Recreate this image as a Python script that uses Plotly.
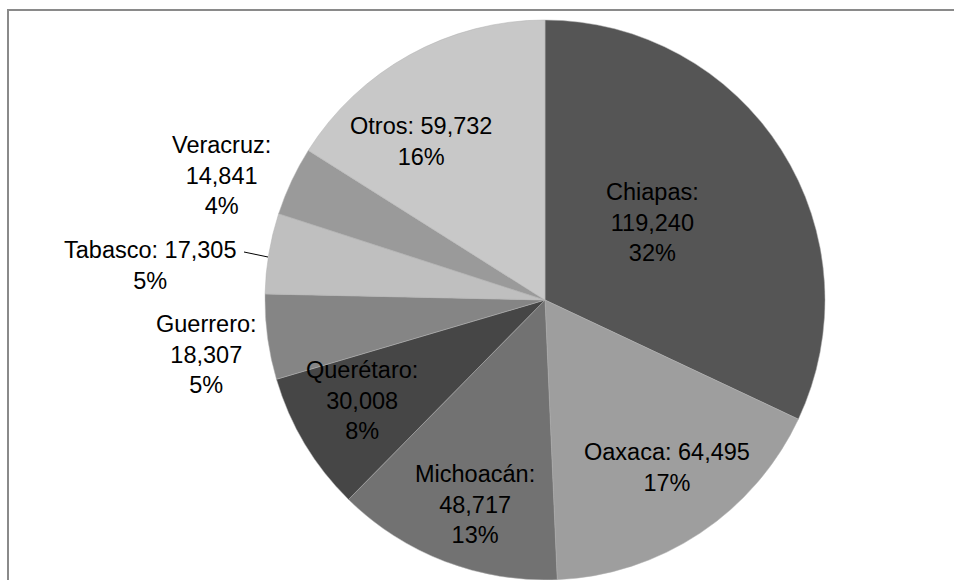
import plotly.graph_objects as go

labels = ["Chiapas", "Oaxaca", "Michoacán", "Querétaro", "Guerrero", "Tabasco", "Veracruz", "Otros"]
values = [119240, 64495, 48717, 30008, 18307, 17305, 14841, 59732]
colors = ["#555555", "#9e9e9e", "#727272", "#464646", "#858585", "#bfbfbf", "#9a9a9a", "#c8c8c8"]

W, H = 954, 580
total = sum(values)
pcts = [round(v * 100 / total) for v in values]


def px(x):
    return x / W


def py(y):
    return 1 - y / H


# label layout: (center x px, center y px, split style)
label_pos = {
    "Chiapas": (652, 222, 3),
    "Oaxaca": (667, 467, 2),
    "Michoacán": (475, 504, 3),
    "Querétaro": (362, 400, 3),
    "Guerrero": (206, 355, 3),
    "Tabasco": (150, 265, 2),
    "Veracruz": (221, 175, 3),
    "Otros": (421, 142, 2),
}

fig = go.Figure()
fig.add_trace(go.Pie(
    labels=labels, values=values, sort=False, direction="clockwise", rotation=0,
    marker=dict(colors=colors, line=dict(color="#b0b0b0", width=0.5)),
    textinfo="none", hoverinfo="label+value+percent", showlegend=False,
    domain=dict(x=[px(265), px(825)], y=[py(580), py(20)]),
))

for lab, val, p in zip(labels, values, pcts):
    x, y, style = label_pos[lab]
    if style == 3:
        txt = f"{lab}:<br>{val:,}<br>{p}%"
    else:
        txt = f"{lab}: {val:,}<br>{p}%"
    fig.add_annotation(x=px(x), y=py(y), xref="paper", yref="paper", text=txt,
                       showarrow=False, xanchor="center", yanchor="middle",
                       font=dict(family="Liberation Sans, Arial", size=23.5, color="#000000"))

# Tabasco leader line
fig.add_shape(type="line", xref="paper", yref="paper",
              x0=px(244), y0=py(252), x1=px(268), y1=py(257),
              line=dict(color="#000000", width=1))
# chart area border
fig.add_shape(type="rect", xref="paper", yref="paper",
              x0=px(8), y0=-0.05, x1=1.05, y1=py(10),
              line=dict(color="#8a8a8a", width=2))

fig.update_layout(width=W, height=H, margin=dict(l=0, r=0, t=0, b=0),
                  paper_bgcolor="white", plot_bgcolor="white")
fig.write_html("out.html", config={"displayModeBar": False},
               post_script="document.body.style.margin='0';document.body.style.overflow='hidden';")
